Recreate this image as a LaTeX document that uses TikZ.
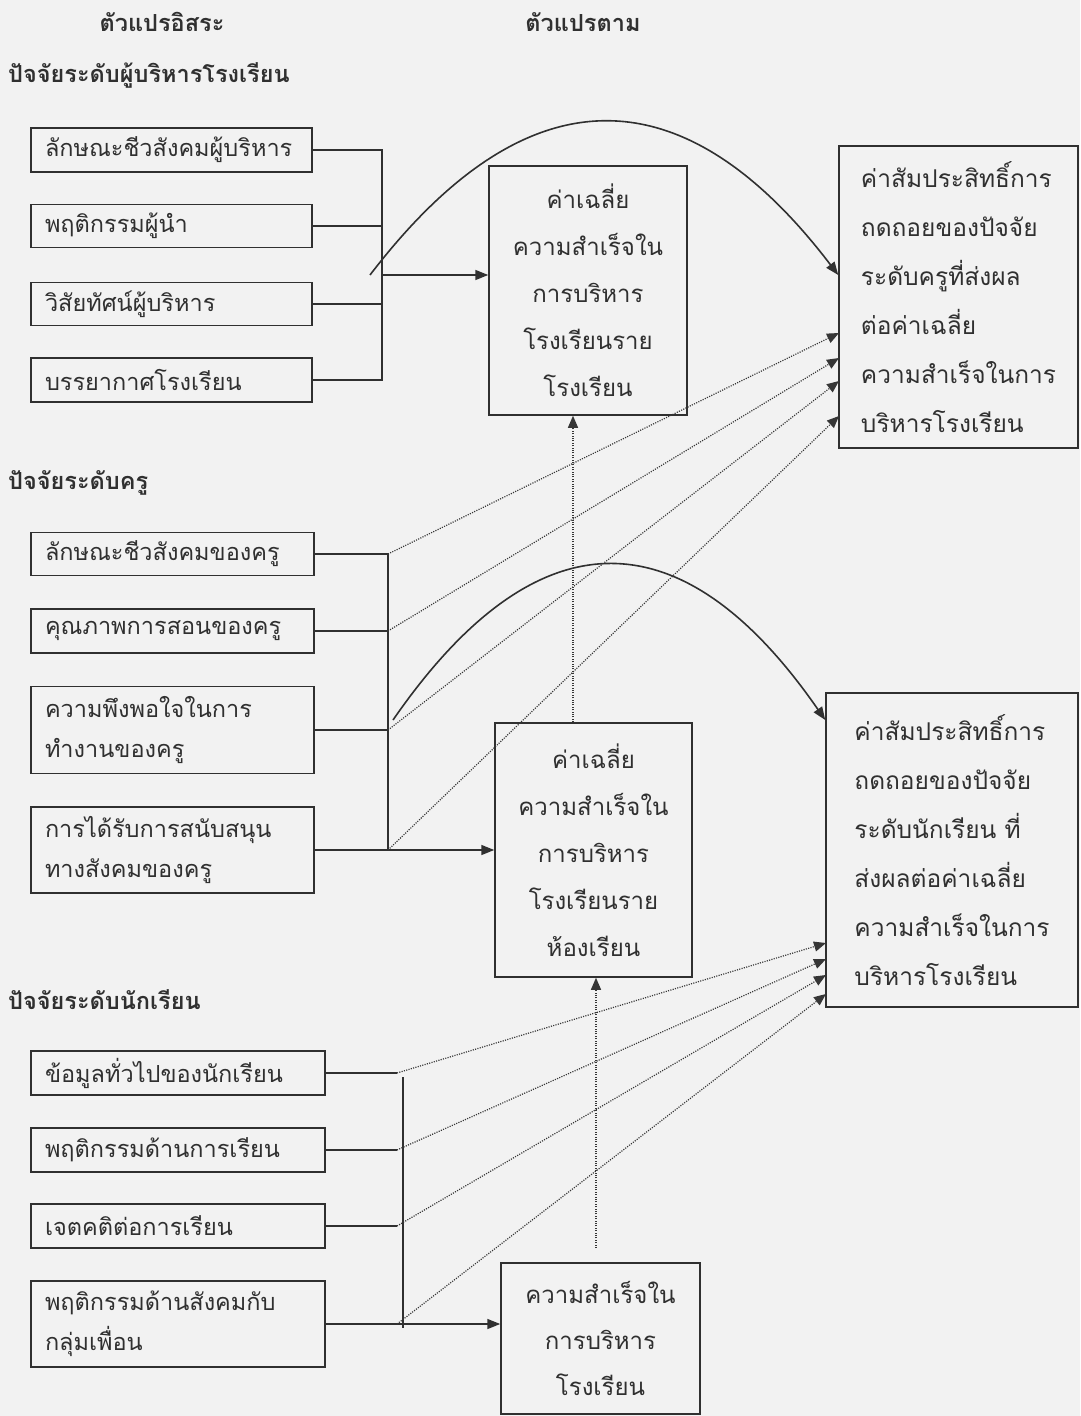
\documentclass[tikz,border=0pt]{standalone}
\usepackage{fontspec}
\setmainfont{Loma}[Script=Thai]
\usetikzlibrary{arrows.meta,calc}
\definecolor{ink}{HTML}{303030}
\definecolor{paper}{HTML}{F2F2F2}
\definecolor{dotc}{HTML}{363636}
\begin{document}
\begin{tikzpicture}[x=1pt,y=-1pt,
  box/.style={draw=ink, line width=1.5pt, text=ink, inner ysep=0pt},
  lbox/.style={box, align=left, inner xsep=14pt, font=\fontsize{23.5}{40}\selectfont},
  mbox/.style={box, align=center, inner xsep=4pt, font=\fontsize{24}{47}\selectfont},
  rbox/.style={box, align=left, inner xsep=4pt, font=\fontsize{24.5}{49}\selectfont},
  hdr/.style={text=ink, inner sep=0pt, font=\fontsize{23.5}{30}\selectfont\bfseries},
  wire/.style={draw=ink, line width=1.6pt},
  warrow/.style={wire, -{Triangle[length=13pt,width=10pt]}},
  dotline/.style={draw=dotc, line width=1.2pt, dash pattern=on 1.1pt off 1.3pt},
  darrow/.style={dotline, -{Triangle[length=12pt,width=10pt]}},
]
\useasboundingbox (0,0) rectangle (1080,1416);
\fill[paper] (0,0) rectangle (1080,1416);

% headers
\node[hdr] (hIV) at (162,22) {ตัวแปรอิสระ};
\node[hdr] (hDV) at (583,22) {ตัวแปรตาม};
\node[hdr, anchor=west] (hAdm) at (8,75) {ปัจจัยระดับผู้บริหารโรงเรียน};
\node[hdr, anchor=west] (hTea) at (8,483) {ปัจจัยระดับครู};
\node[hdr, anchor=west] (hStu) at (8,1000) {ปัจจัยระดับนักเรียน};

% administrator level
\node[lbox, minimum width=281pt, minimum height=44pt, text width=253pt] (A1) at (171.5,150) {ลักษณะชีวสังคมผู้บริหาร};
\node[lbox, minimum width=281pt, minimum height=43pt, text width=253pt] (A2) at (171.5,226) {พฤติกรรมผู้นำ};
\node[lbox, minimum width=281pt, minimum height=43pt, text width=253pt] (A3) at (171.5,304) {วิสัยทัศน์ผู้บริหาร};
\node[lbox, minimum width=281pt, minimum height=44pt, text width=253pt] (A4) at (171.5,380) {บรรยากาศโรงเรียน};

\node[mbox, minimum width=198pt, minimum height=249pt] (M1) at (588,290.5) {ค่าเฉลี่ย\\ความสำเร็จใน\\การบริหาร\\โรงเรียนราย\\โรงเรียน};
\node[rbox, minimum width=239pt, minimum height=302pt] (R1) at (958.5,297) {ค่าสัมประสิทธิ์การ\\ถดถอยของปัจจัย\\ระดับครูที่ส่งผล\\ต่อค่าเฉลี่ย\\ความสำเร็จในการ\\บริหารโรงเรียน};

\coordinate (abusT) at (382,150);
\coordinate (abusB) at (382,380);
\coordinate (aj) at (382,275);
\draw[wire] (A1.east) -- (A1.east -| abusT) -- (abusB) -- (A4.east);
\draw[wire] (A2.east) -- (A2.east -| abusT);
\draw[wire] (A3.east) -- (A3.east -| abusT);
\draw[warrow] (aj) -- (aj -| M1.west);

\coordinate (arc1s) at (370,275);
\draw[warrow] (arc1s) .. controls (526,71) and (683,71) .. (arc1s -| R1.west);

% teacher level
\node[lbox, minimum width=283pt, minimum height=43pt, text width=255pt] (T1) at (172.5,554) {ลักษณะชีวสังคมของครู};
\node[lbox, minimum width=283pt, minimum height=44pt, text width=255pt] (T2) at (172.5,631) {คุณภาพการสอนของครู};
\node[lbox, minimum width=283pt, minimum height=87pt, text width=255pt] (T3) at (172.5,730) {ความพึงพอใจในการ\\ทำงานของครู};
\node[lbox, minimum width=283pt, minimum height=86pt, text width=255pt] (T4) at (172.5,850) {การได้รับการสนับสนุน\\ทางสังคมของครู};

\node[mbox, minimum width=197pt, minimum height=254pt] (M2) at (593.5,850) {ค่าเฉลี่ย\\ความสำเร็จใน\\การบริหาร\\โรงเรียนราย\\ห้องเรียน};
\node[rbox, minimum width=252pt, minimum height=314pt] (R2) at (952,850) {ค่าสัมประสิทธิ์การ\\ถดถอยของปัจจัย\\ระดับนักเรียน ที่\\ส่งผลต่อค่าเฉลี่ย\\ความสำเร็จในการ\\บริหารโรงเรียน};

\coordinate (tbus) at (388,554);
\coordinate (tj1) at (T1.east -| tbus);
\coordinate (tj2) at (T2.east -| tbus);
\coordinate (tj3) at (T3.east -| tbus);
\coordinate (tj4) at (T4.east -| tbus);
\draw[wire] (T1.east) -- (tj1) -- (tj4);
\draw[wire] (T2.east) -- (tj2);
\draw[wire] (T3.east) -- (tj3);
\draw[warrow] (T4.east) -- (T4.east -| M2.west);

\coordinate (arc2s) at (393,720);
\draw[warrow] (arc2s) .. controls (536,513) and (682,513) .. (arc2s -| R2.west);

\coordinate (r1a) at (839,333);
\coordinate (r1b) at (839,358);
\coordinate (r1c) at (839,381);
\coordinate (r1d) at (839,416);
\draw[darrow] (tj1) -- (r1a);
\draw[darrow] (tj2) -- (r1b);
\draw[darrow] (tj3) -- (r1c);
\draw[darrow] (tj4) -- (r1d);

% student level
\node[lbox, minimum width=294pt, minimum height=44pt, text width=266pt] (S1) at (178,1073) {ข้อมูลทั่วไปของนักเรียน};
\node[lbox, minimum width=294pt, minimum height=44pt, text width=266pt] (S2) at (178,1150) {พฤติกรรมด้านการเรียน};
\node[lbox, minimum width=294pt, minimum height=44pt, text width=266pt] (S3) at (178,1226) {เจตคติต่อการเรียน};
\node[lbox, minimum width=294pt, minimum height=86pt, text width=266pt] (S4) at (178,1324) {พฤติกรรมด้านสังคมกับ\\กลุ่มเพื่อน};

\node[mbox, minimum width=199pt, minimum height=151pt, font=\fontsize{24}{46}\selectfont] (M3) at (600.5,1338.5) {ความสำเร็จใน\\การบริหาร\\โรงเรียน};

\coordinate (sstub) at (397,1073);
\coordinate (sbusT) at (403,1077);
\coordinate (sbusB) at (403,1328);
\coordinate (sj1) at (S1.east -| sstub);
\coordinate (sj2) at (S2.east -| sstub);
\coordinate (sj3) at (S3.east -| sstub);
\coordinate (sj4) at (S4.east -| sstub);
\draw[wire] (S1.east) -- (sj1);
\draw[wire] (S2.east) -- (sj2);
\draw[wire] (S3.east) -- (sj3);
\draw[wire] (sbusT) -- (sbusB);
\draw[warrow] (S4.east) -- (S4.east -| M3.west);

\coordinate (r2a) at (826,943);
\coordinate (r2b) at (826,959);
\coordinate (r2c) at (826,975);
\coordinate (r2d) at (826,994);
\draw[darrow] (sj1) -- (r2a);
\draw[darrow] (sj2) -- (r2b);
\draw[darrow] (sj3) -- (r2c);
\draw[darrow] (sj4) -- (r2d);

% vertical dotted links between the dependent variables
\coordinate (v1) at (573,0);
\draw[darrow] (M2.north -| v1) -- (M1.south -| v1);
\coordinate (v2) at (596,1248);
\draw[darrow] (v2) -- (v2 |- M2.south);
\end{tikzpicture}
\end{document}
